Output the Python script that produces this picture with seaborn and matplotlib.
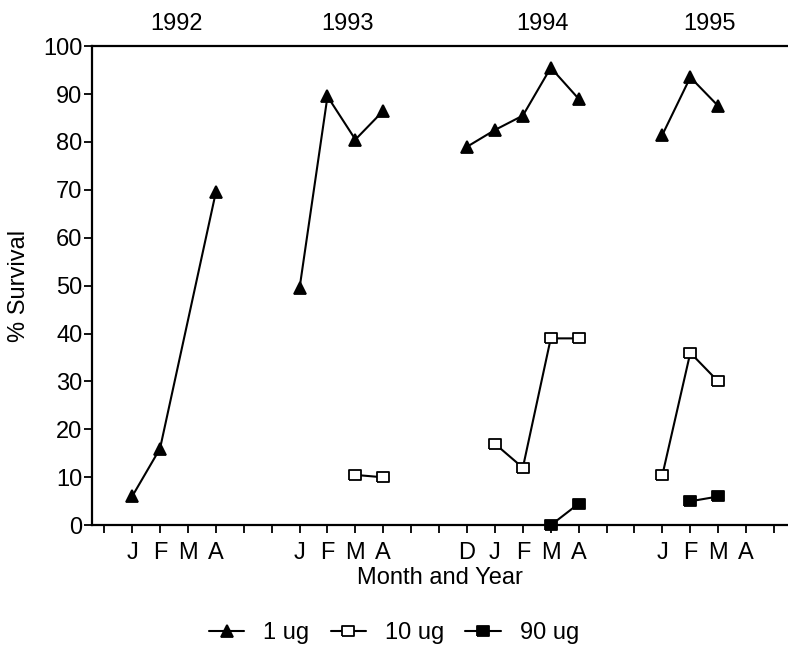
import pandas as pd
import matplotlib
matplotlib.use("Agg")
import matplotlib.pyplot as plt
import seaborn as sns
from matplotlib.lines import Line2D

# month slots along the x axis (0..24), labels only where data months sit
month_labels = ["", "J", "F", "M", "A", "", "", "J", "F", "M", "A", "", "",
                "D", "J", "F", "M", "A", "", "", "J", "F", "M", "A", ""]
years = ["1992", "1993", "1994", "1995"]
year_pos = [2.6, 8.7, 15.7, 21.7]

# 1 ug
ug1_pos = [1, 2, 4, 7, 8, 9, 10, 13, 14, 15, 16, 17, 20, 21, 22]
ug1_val = [6, 16, 69.5, 49.5, 89.5, 80.5, 86.5, 79, 82.5, 85.5, 95.5, 89, 81.5, 93.5, 87.5]
ug1_season = [92, 92, 92, 93, 93, 93, 93, 94, 94, 94, 94, 94, 95, 95, 95]

# 10 ug
ug10_pos = [9, 10, 14, 15, 16, 17, 20, 21, 22]
ug10_val = [10.5, 10, 17, 12, 39, 39, 10.5, 36, 30]
ug10_season = [93, 93, 94, 94, 94, 94, 95, 95, 95]

# 90 ug
ug90_pos = [16, 17, 21, 22]
ug90_val = [0, 4.5, 5, 6]
ug90_season = [94, 94, 95, 95]

sns.set_style("ticks")
plt.rcParams["font.family"] = ["Liberation Sans", "DejaVu Sans"]
plt.rcParams["text.color"] = "black"
plt.rcParams["xtick.color"] = "black"
plt.rcParams["ytick.color"] = "black"
plt.rcParams["axes.labelcolor"] = "black"

rect = [(-1.3, -1), (1.3, -1), (1.3, 1), (-1.3, 1), (-1.3, -1)]
series = [
    ("1 ug", ug1_pos, ug1_val, ug1_season, "^", "black", 9),
    ("10 ug", ug10_pos, ug10_val, ug10_season, rect, "white", 8.5),
    ("90 ug", ug90_pos, ug90_val, ug90_season, rect, "black", 8.5),
]

fig = plt.figure(figsize=(7.88, 6.59), dpi=100)
ax = fig.add_axes([0.117, 0.203, 0.883, 0.727])

handles = []
for name, pos, val, season, mk, face, ms in series:
    df = pd.DataFrame({"pos": pos, "val": val, "season": season})
    sns.lineplot(data=df, x="pos", y="val", units="season", estimator=None,
                 color="black", linewidth=1.5, marker=mk, markersize=ms,
                 markerfacecolor=face, markeredgecolor="black",
                 markeredgewidth=1.3, clip_on=False, ax=ax, legend=False)
    handles.append(Line2D([], [], color="black", linewidth=1.5, marker=mk,
                          markersize=ms, markerfacecolor=face,
                          markeredgecolor="black", markeredgewidth=1.3,
                          label=name))

ax.set_xlim(-0.43, 24.5)
ax.set_ylim(0, 100)
ax.set_xticks(range(len(month_labels)))
ax.set_xticklabels(month_labels, fontsize=17)
ax.set_yticks(range(0, 101, 10))
ax.set_yticklabels([str(v) for v in range(0, 101, 10)], fontsize=17)
ax.tick_params(axis="both", direction="out", length=6, width=1.3)
ax.tick_params(axis="x", pad=6)
ax.tick_params(axis="y", pad=1)

for side in ["left", "bottom", "top"]:
    ax.spines[side].set_linewidth(1.6)
    ax.spines[side].set_color("black")
ax.spines["right"].set_visible(False)

for yr, xp in zip(years, year_pos):
    ax.text(xp, 104.6, yr, ha="center", va="center", fontsize=17, clip_on=False)

ax.set_xlabel("Month and Year", fontsize=17)
ax.set_ylabel("% Survival", fontsize=17)
ax.xaxis.set_label_coords(0.5, -0.088)
ax.yaxis.set_label_coords(-0.09, 0.5)

fig.legend(handles=handles, loc="center", bbox_to_anchor=(394 / 788, 1 - 633 / 659),
           ncol=3, frameon=False, fontsize=17, handlelength=1.5,
           handletextpad=0.8, columnspacing=0.9)

fig.savefig("out.png", dpi=100, facecolor="white")
